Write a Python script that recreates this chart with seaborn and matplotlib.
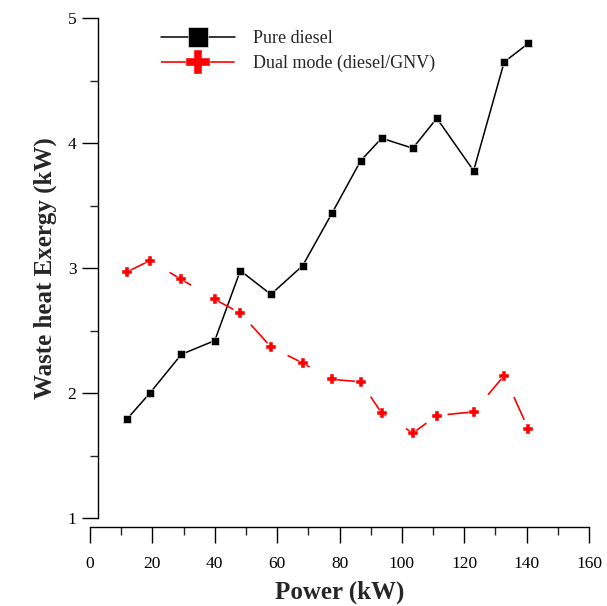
import matplotlib
matplotlib.use("Agg")
import matplotlib.pyplot as plt
from matplotlib.ticker import MultipleLocator
import seaborn as sns

# values
power = [11.8, 19.2, 29.3, 40.0, 48.2, 58.0, 68.2, 77.6, 86.8, 93.5, 103.5, 111.2, 123.0, 132.8, 140.6]
pure_diesel = [1.79, 2.00, 2.31, 2.42, 2.98, 2.79, 3.02, 3.44, 3.86, 4.04, 3.96, 4.20, 3.78, 4.65, 4.80]
dual_mode = [2.97, 3.06, 2.91, 2.75, 2.64, 2.37, 2.24, 2.11, 2.09, 1.84, 1.68, 1.82, 1.85, 2.14, 1.71]

sns.set_style("ticks")
plt.rcParams["font.family"] = ["Liberation Serif", "DejaVu Serif"]
plt.rcParams["lines.scale_dashes"] = False

fig = plt.figure(figsize=(6.07, 6.06), dpi=100)
ax = fig.add_axes([90 / 607, 1 - 518 / 606, 499 / 607, 499.7 / 606])

sns.lineplot(x=power, y=pure_diesel, ax=ax, color="black", lw=1.1,
             marker="s", markersize=5.5, markeredgewidth=0.4,
             label="Pure diesel", sort=False)
sns.lineplot(x=power, y=dual_mode, ax=ax, color="red", lw=1.2,
             linestyle=(0, (18, 17)), marker="P", markersize=6.5,
             markeredgewidth=0.3, label="Dual mode (diesel/GNV)", sort=False)

ax.set_xlim(0, 160)
ax.set_ylim(1, 5)
ax.xaxis.set_major_locator(MultipleLocator(20))
ax.xaxis.set_minor_locator(MultipleLocator(10))
ax.yaxis.set_major_locator(MultipleLocator(1))
ax.yaxis.set_minor_locator(MultipleLocator(0.5))

ax.spines["top"].set_visible(False)
ax.spines["right"].set_visible(False)
ax.spines["left"].set_position(("outward", -5.5))
ax.spines["bottom"].set_position(("outward", 6.3))
for s in ("left", "bottom"):
    ax.spines[s].set_linewidth(1.0)
    ax.spines[s].set_color("black")

ax.tick_params(axis="both", which="major", direction="out", length=11.3,
               width=1.0, labelsize=12.5, colors="black")
ax.tick_params(axis="both", which="minor", direction="out", length=5.8, width=1.0)
ax.tick_params(axis="x", which="major", pad=10)
ax.tick_params(axis="y", which="major", pad=4)

ax.set_xlabel("Power (kW)", fontsize=18, fontweight="bold", labelpad=6)
ax.set_ylabel("Waste heat Exergy (kW)", fontsize=18, fontweight="bold", labelpad=8)

ax.legend(loc="upper left", bbox_to_anchor=(161 / 607, 1 - 30 / 606),
          bbox_transform=fig.transFigure, frameon=False, fontsize=13,
          markerscale=2.6, handlelength=4.1, handletextpad=1.0,
          labelspacing=0.45, borderpad=0, borderaxespad=0)

fig.savefig("out.png", dpi=100)
